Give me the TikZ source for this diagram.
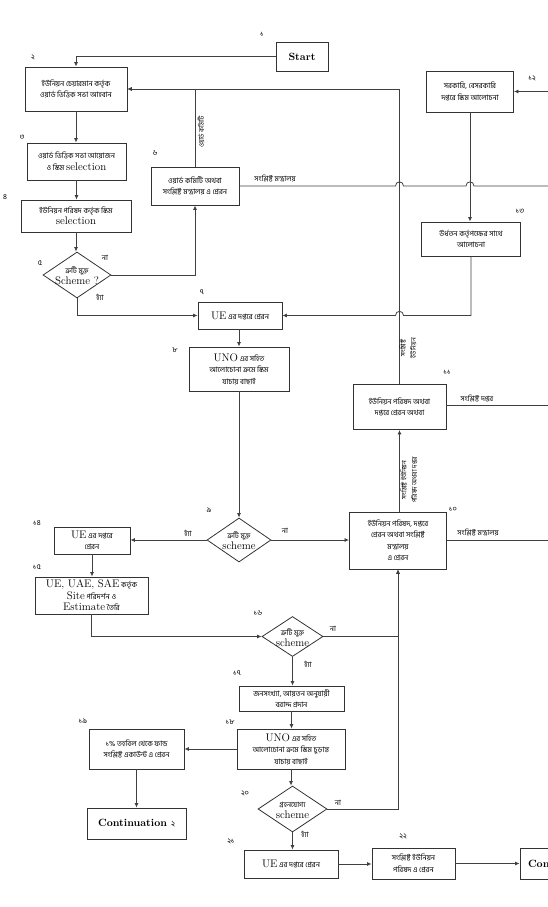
\documentclass[tikz,border=0pt]{standalone}
\usepackage{fontspec}
\newfontfamily\bn[Script=Bengali]{Hind Siliguri}
\usetikzlibrary{arrows.meta,shapes.geometric,calc}
\newcommand\bs{\bn\fontsize{7.4}{11.5}\selectfont}
\newcommand\E[1]{{\normalfont\fontsize{11}{12}\selectfont #1}}
\newcommand\EB[1]{{\normalfont\bfseries\fontsize{10.5}{12}\selectfont #1}}
\tikzset{
  box/.style={draw=black!80, line width=0.9pt, rectangle, inner sep=0pt, align=center, font=\bs},
  bx/.style 2 args={box, minimum width=#1pt, minimum height=#2pt},
  dia/.style={draw=black!80, line width=0.8pt, diamond, inner sep=0pt},
  dtext/.style={inner sep=0pt, align=center, font=\bn\fontsize{7.2}{11}\selectfont},
  conn/.style={draw=black!75, line width=0.8pt},
  arr/.style={conn, -{Latex[length=4.5pt,width=4pt]}},
  num/.style={font=\bn\fontsize{7.5}{8}\selectfont, inner sep=0pt},
  lab/.style={font=\bn\fontsize{7.3}{8}\selectfont, inner sep=0pt},
  rlab/.style={font=\bn\fontsize{6.6}{10.5}\selectfont, inner sep=0pt, rotate=90, align=center}
}
\begin{document}
\begin{tikzpicture}[x=1pt,y=-1pt]
\useasboundingbox (0,0) rectangle (548,907);
\clip (0,0) rectangle (548,907);
\coordinate (R) at (548,0);

% boxes
\node[bx={52}{29}] (start) at (302,56.5) {\EB{Start}};
\node[bx={102}{44}] (n2) at (76,89) {ইউনিয়ন চেয়ারমান কর্তৃক\\ওয়ার্ড ভিত্তিক সভা আহবান};
\node[bx={99}{37}] (n3) at (76.5,161.5) {ওয়ার্ড ভিত্তিক সভা আয়োজন\\ও স্কিম \E{selection}};
\node[bx={110}{32}] (n4) at (76,216) {ইউনিয়ন পরিষদ কর্তৃক স্কিম\\\E{selection}};
\node[dia, minimum width=68pt, minimum height=46pt] (n5) at (77,275) {};
\node[dtext] (t5) at (77,276) {ত্রুটি মুক্ত\\\E{Scheme ?}};
\node[bx={88}{38}] (n6) at (195,186) {ওয়ার্ড কমিটি অথবা\\সংশ্লিষ্ট মন্ত্রালয় এ প্রেরন};
\node[bx={84}{27}] (n7) at (240,315.5) {\E{UE} এর দপ্তরে প্রেরন};
\node[bx={100}{44}] (n8) at (239,369) {\E{UNO} এর সহিত\\আলোচোনা ক্রমে স্কিম\\যাচায় বাছাই};
\node[dia, minimum width=64pt, minimum height=44pt] (n9) at (239,540) {};
\node[dtext] (t9) at (239,541) {ত্রুটি মুক্ত\\\E{scheme}};
\node[bx={97}{57}] (n10) at (398,540.5) {ইউনিয়ন পরিষদ, দপ্তরে\\প্রেরন অথবা সংশ্লিষ্ট\\মন্ত্রালয়\\এ প্রেরন};
\node[bx={93}{45}] (n11) at (399.5,407) {ইউনিয়ন পরিষদ অথবা\\দপ্তরে প্রেরন অথবা};
\node[bx={87}{41}] (n12) at (470,91.5) {সরকারি, বেসরকারি\\দপ্তরে স্কিম আলোচনা};
\node[bx={99}{34}] (n13) at (471,239) {উর্ধতন কর্তৃপক্ষের সাথে\\আলোচনা};
\node[bx={76}{27}] (n14) at (92,540.5) {\E{UE} এর দপ্তরে\\প্রেরন};
\node[bx={113}{37}] (n15) at (91.5,595.5) {\E{UE, UAE, SAE} কর্তৃক\\\E{Site} পরিদর্শন ও\\\E{Estimate} তৈরি};
\node[dia, minimum width=61pt, minimum height=40pt] (n16) at (292.5,636.5) {};
\node[dtext] (t16) at (292.5,637.5) {ত্রুটি মুক্ত\\\E{scheme}};
\node[bx={105}{25}] (n17) at (291.5,698.5) {জনসংখ্যা, আয়তন অনুযায়ী\\বরাদ্দ প্রদান};
\node[bx={108}{40}] (n18) at (291,749) {\E{UNO} এর সহিত\\আলোচোনা ক্রমে স্কিম চুড়ান্ত\\যাচায় বাছাই};
\node[bx={95}{40}] (n19) at (136.5,749) {১\% তহবিল থেকে ফান্ড\\সংশ্লিষ্ট একাউন্ট এ প্রেরন};
\node[bx={99}{31}] (cont2) at (136.5,823.5) {\EB{Continuation~}{\bn\fontsize{8}{10}\selectfont ২}};
\node[dia, minimum width=69pt, minimum height=46pt] (n20) at (292.5,809) {};
\node[dtext] (t20) at (292.5,810) {গ্রহনযোগ্য\\\E{scheme}};
\node[bx={94}{28}] (n21) at (291,864) {\E{UE} এর দপ্তরে প্রেরন};
\node[bx={83}{31}] (n22) at (413.5,863.5) {সংশ্লিষ্ট ইউনিয়ন\\পরিষদ এ প্রেরন};
\node[bx={100}{31}, text width=84pt, align=left] (con3) at (570,863.5) {\EB{Continuation}};

% step numbers
\node[num] (k1) at (262,34) {১};
\node[num] (k2) at (33,57) {২};
\node[num] (k3) at (22,137) {৩};
\node[num] (k4) at (5,197) {৪};
\node[num] (k5) at (40,263) {৫};
\node[num] (k6) at (155,153) {৬};
\node[num] (k7) at (202,292) {৭};
\node[num] (k8) at (175,350) {৮};
\node[num] (k9) at (209,510) {৯};
\node[num] (k10) at (453,509) {১০};
\node[num] (k11) at (447,372) {১১};
\node[num] (k12) at (532,78) {১২};
\node[num] (k13) at (520,211) {১৩};
\node[num] (k14) at (37,523) {১৪};
\node[num] (k15) at (37,567) {১৫};
\node[num] (k16) at (258,613) {১৬};
\node[num] (k17) at (237,673) {১৭};
\node[num] (k18) at (230,722) {১৮};
\node[num] (k19) at (83,721) {১৯};
\node[num] (k20) at (245,793) {২০};
\node[num] (k21) at (231,841) {২১};
\node[num] (k22) at (403,836) {২২};

% hop points
\coordinate (h1) at (n11.north |- n6.east);
\coordinate (h2) at (n12.south |- n6.east);
\coordinate (h3) at (n11.north |- n7.east);

% connectors
\draw[arr] (start.west) -| (n2.north);
\draw[arr] (n2.south) -- (n2.south |- n3.north);
\draw[arr] (n3.south) -- (n3.south |- n4.north);
\draw[arr] (n4.south) -- (n4.south |- n5.north);
\draw[arr] (n5.east) -| (n6.south);
\draw[arr] (n5.south) |- (n7.west);
\draw[arr] (n6.north) |- (n2.east);
\draw[arr] (n11.north) |- (n2.east);
\draw[conn] (n6.east) -- ([xshift=-4pt]h1) .. controls ([xshift=-4pt,yshift=5.5pt]h1) and ([xshift=4pt,yshift=5.5pt]h1) .. ([xshift=4pt]h1)
  -- ([xshift=-4pt]h2) .. controls ([xshift=-4pt,yshift=5.5pt]h2) and ([xshift=4pt,yshift=5.5pt]h2) .. ([xshift=4pt]h2)
  -- (n6.east -| R);
\draw[arr] (n6.east -| R) ++(0,-94.5) coordinate (e12) -- (e12 -| n12.east);
\draw[arr] (n12.south) -- (n12.south |- n13.north);
\draw[arr] (n13.south) |- ([xshift=4pt]h3) .. controls ([xshift=4pt,yshift=5.5pt]h3) and ([xshift=-4pt,yshift=5.5pt]h3) .. ([xshift=-4pt]h3) -- (n7.east);
\draw[arr] (n7.south -| n8.north) -- (n8.north);
\draw[arr] (n8.south) -- (n9.north);
\draw[arr] (n9.west) -- (n9.west -| n14.east);
\draw[arr] (n9.east) -- (n9.east -| n10.west);
\draw[arr] (n10.north -| n11.south) -- (n11.south);
\draw[conn] (n10.east) -- (n10.east -| R);
\draw[conn] ([yshift=2pt]n11.east) -- ([yshift=2pt]n11.east -| R);
\draw[arr] (n14.south) -- (n14.south |- n15.north);
\draw[arr] (n15.south) |- (n16.west);
\draw[arr] (n16.east) -| (n10.south);
\draw[arr] (n16.south) -- (n16.south |- n17.north);
\draw[arr] (n17.south) -- (n17.south |- n18.north);
\draw[arr] (n18.west) -- (n18.west -| n19.east);
\draw[arr] (n18.south) -- (n18.south |- n20.north);
\draw[arr] (n19.south) -- (n19.south |- cont2.north);
\draw[arr] (n20.east) -| (n10.south);
\draw[arr] (n20.south) -- (n20.south |- n21.north);
\draw[arr] (n21.east) -- (n21.east -| n22.west);
\draw[arr] (n22.east) -- (n22.east -| con3.west);

% connector labels
\node[lab] (l5n) at (105,258) {না};
\node[lab] (l5y) at (100,297) {হ্যাঁ};
\node[lab] (l9y) at (188,533) {হ্যাঁ};
\node[lab] (l9n) at (285,531) {না};
\node[lab] (l16n) at (333,629) {না};
\node[lab] (l16y) at (308,664) {হ্যাঁ};
\node[lab] (l20n) at (338,803) {না};
\node[lab] (l20y) at (305,834) {হ্যাঁ};
\node[lab] (l6) at (275,179) {সংশ্লিষ্ট মন্ত্রালয়};
\node[lab] (l11) at (477,399) {সংশ্লিষ্ট দপ্তর};
\node[lab] (l10) at (478,533) {সংশ্লিষ্ট মন্ত্রালয়};
\node[rlab] (r6) at (201,132) {ওয়ার্ড কমিটি};
\node[rlab] (r11) at (408,348) {সংশ্লিষ্ট\\ইউনিয়ন};
\node[rlab] (r10) at (409,480) {সংশ্লিষ্ট ইউনিয়ন\\পরিষদ অথবা দপ্তর};
\end{tikzpicture}
\end{document}
